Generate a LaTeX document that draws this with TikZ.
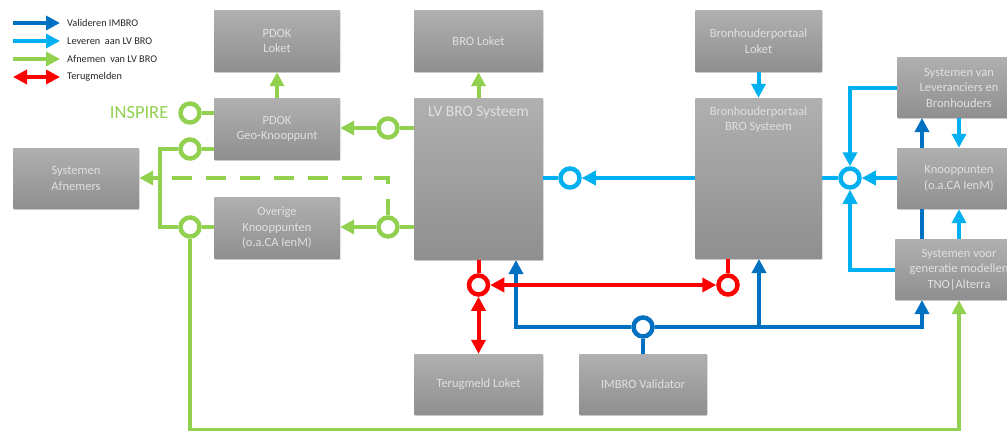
\documentclass[tikz,border=0pt]{standalone}
\usepackage{fontspec}
\setmainfont{Carlito}
\usetikzlibrary{arrows.meta,shadows,calc}
\definecolor{dblue}{HTML}{0070C0}
\definecolor{lblue}{HTML}{00B0F0}
\definecolor{agreen}{HTML}{92D050}
\definecolor{tred}{HTML}{FF0000}
\tikzset{
  box/.style n args={2}{rectangle,minimum width=#1,minimum height=#2,inner sep=0pt,
    top color=black!31,bottom color=black!44,rounded corners=0.8pt,
    general shadow={shadow xshift=0.6pt,shadow yshift=-0.8pt,fill=black,opacity=.18},
    text=black!12,align=center,font=\fontsize{12.5}{15.5}\selectfont},
  hub/.style={circle,draw=#1,fill=white,line width=4.5pt,inner sep=0pt,minimum size=19pt},
  conn/.style={line width=4pt,draw=#1,line join=miter},
  arr/.style={conn=#1,-{Triangle[length=14pt,width=14pt]}},
  darr/.style={conn=#1,{Triangle[length=14pt,width=14pt]}-{Triangle[length=14pt,width=14pt]}},
  legtxt/.style={anchor=west,inner sep=0pt,font=\fontsize{10.3}{12}\selectfont,text=black!85}
}
\begin{document}
\begin{tikzpicture}[x=1pt,y=-1pt]
\useasboundingbox (0,0) rectangle (1007,431);
% boxes
\node[box={126pt}{62pt}] (pdokl) at (277,41) {PDOK\\Loket};
\node[box={126pt}{62pt}] (geo) at (277,129) {PDOK\\Geo-Knooppunt};
\node[box={126pt}{62pt}] (over) at (277,228) {Overige\\Knooppunten\\(o.a.CA IenM)};
\node[box={126pt}{61pt}] (afn) at (76,178.5) {Systemen\\Afnemers};
\node[box={129pt}{62pt}] (brol) at (478.5,41) {BRO Loket};
\node[box={129pt}{162pt},label={[anchor=north,inner sep=0pt,yshift=-8.5pt,text=black!12,font=\fontsize{15.5}{18}\selectfont]north:LV BRO Systeem}] (lv) at (478.5,179) {};
\node[box={127pt}{62pt}] (bhl) at (758.5,41) {Bronhouderportaal\\Loket};
\node[box={127pt}{161pt},label={[anchor=north,inner sep=0pt,yshift=-8.5pt,align=center,text=black!12,font=\fontsize{12.5}{15.5}\selectfont]north:Bronhouderportaal\\BRO Systeem}] (bh) at (758.5,178.5) {};
\node[box={124pt}{61pt}] (lev) at (959,87.5) {Systemen van\\Leveranciers en\\Bronhouders};
\node[box={124pt}{61pt}] (kn) at (959,178.5) {Knooppunten\\(o.a.CA IenM)};
\node[box={128pt}{61pt}] (gen) at (959,269.5) {Systemen voor\\generatie modellen\\TNO|Alterra};
\node[box={129pt}{61pt}] (ter) at (478.5,384.5) {Terugmeld Loket};
\node[box={128pt}{61pt}] (val) at (643,384.5) {IMBRO Validator};
% hubs
\node[hub=agreen] (insp) at (190,113) {};
\node[hub=agreen] (gtop) at (190,149) {};
\node[hub=agreen] (gbot) at (190,227) {};
\node[hub=agreen] (gr1) at (388,128) {};
\node[hub=agreen] (gr2) at (388,227) {};
\node[hub=lblue] (bl1) at (570,178) {};
\node[hub=lblue] (bl2) at (850,178) {};
\node[hub=tred] (r1) at (478.5,285) {};
\node[hub=tred] (r2) at (728,285) {};
\node[hub=dblue] (db) at (643,327) {};
% INSPIRE
\node[anchor=east,inner sep=0pt,text=agreen,font=\fontsize{18.5}{22}\selectfont] (insptxt) at (168.5,113) {INSPIRE};
% green
\draw[arr=agreen] (geo.north) -- (pdokl.south);
\draw[arr=agreen] (lv.north) -- (brol.south);
\draw[conn=agreen] (insp.east) -- (geo.west |- insp.east);
\draw[conn=agreen] (gtop.east) -- (geo.west |- gtop.east);
\draw[conn=agreen] (gbot.east) -- (over.west |- gbot.east);
\draw[conn=agreen] (gtop.west) -- (160,149) -- (160,227) -- (gbot.west);
\coordinate (afnj) at (160,178);
\draw[arr=agreen] (afnj) -- (afn.east |- afnj);
\draw[arr=agreen] (gr1.west) -- (geo.east |- gr1.west);
\draw[arr=agreen] (gr2.west) -- (over.east |- gr2.west);
\draw[conn=agreen] (lv.west |- gr1.east) -- (gr1.east);
\draw[conn=agreen] (lv.west |- gr2.east) -- (gr2.east);
\coordinate (dashend) at (388,184);
\draw[conn=agreen,dash pattern=on 20pt off 14pt] (172,178) -- (388,178);
\draw[conn=agreen] (374,178) -- (388,178) -- (dashend);
\coordinate (stub) at (388,199);
\draw[conn=agreen] (stub) -- (gr2.north);
\coordinate (gb1) at (190,430);
\coordinate (gb2) at (959,430);
\draw[conn=agreen] (gbot.south) -- (gb1) -- (gb2) -- ($(gen.south)+(0,12)$);
\draw[arr=agreen] ($(gen.south)+(0,14)$) -- (gen.south);
% light blue
\draw[arr=lblue] (bhl.south) -- (bh.north);
\draw[arr=lblue] (bh.west |- bl1.east) -- (bl1.east);
\draw[conn=lblue] (bl1.west) -- (lv.east |- bl1.west);
\draw[conn=lblue] (bh.east |- bl2.west) -- (bl2.west);
\draw[arr=lblue] (kn.west |- bl2.east) -- (bl2.east);
\draw[arr=lblue] (lev.west) -| (bl2.north);
\draw[arr=lblue] (gen.west) -| (bl2.south);
\draw[arr=lblue] (lev.south) -- (kn.north);
\draw[arr=lblue] (gen.north) -- (kn.south);
% dark blue
\coordinate (dl) at (516,327);
\coordinate (dr) at (922,327);
\draw[conn=dblue] (val.north) -- (db.south);
\draw[arr=dblue] (db.west) -- (dl) -- (516,260);
\draw[arr=dblue] (db.east) -- (dr) -- (922,300);
\draw[arr=dblue] (759,327) -- (759,259);
\draw[conn=dblue] (922,239) -- (922,209);
\draw[arr=dblue] (922,148) -- (922,118);
% red
\draw[conn=tred] (lv.south -| r1.north) -- (r1.north);
\draw[conn=tred] (r2.north |- bh.south) -- (r2.north);
\draw[darr=tred] (r1.east) -- (r2.west);
\draw[darr=tred] (r1.south) -- (ter.north);
% legend
\coordinate (l1a) at (13,23); \coordinate (l1b) at (60,23);
\coordinate (l2a) at (13,41); \coordinate (l2b) at (60,41);
\coordinate (l3a) at (13,59); \coordinate (l3b) at (60,59);
\coordinate (l4a) at (13,77); \coordinate (l4b) at (60,77);
\draw[arr=dblue] (l1a) -- (l1b);
\draw[arr=lblue] (l2a) -- (l2b);
\draw[arr=agreen] (l3a) -- (l3b);
\draw[darr=tred] (l4a) -- (l4b);
\node[legtxt] (t1) at (67,23) {Valideren IMBRO};
\node[legtxt] (t2) at (67,41) {Leveren\ \ aan LV BRO};
\node[legtxt] (t3) at (67,59) {Afnemen\ \ van LV BRO};
\node[legtxt] (t4) at (67,77) {Terugmelden};
\end{tikzpicture}
\end{document}
